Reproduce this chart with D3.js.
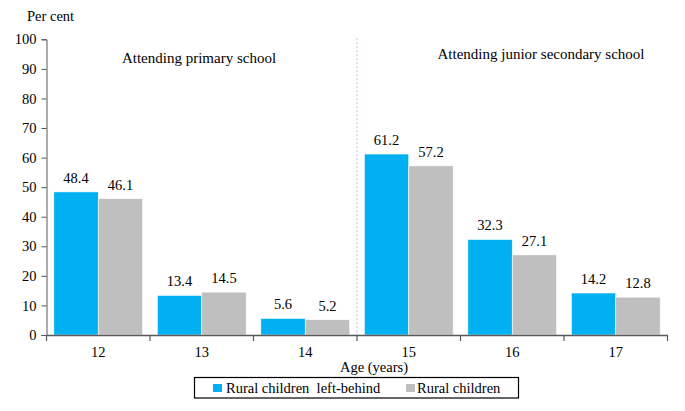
<!DOCTYPE html>
<html><head><meta charset="utf-8">
<script src="https://cdn.jsdelivr.net/npm/d3@7"></script>
<style>body{margin:0;background:#fff}</style>
</head><body><svg id="c" width="685" height="411"></svg>
<script>
const ages = ["12","13","14","15","16","17"];
const leftBehind = [48.4, 13.4, 5.6, 61.2, 32.3, 14.2];
const rural = [46.1, 14.5, 5.2, 57.2, 27.1, 12.8];
const seriesNames = ["Rural children  left-behind", "Rural children"];
const yTicks = [0,10,20,30,40,50,60,70,80,90,100];
const groupLabels = ["Attending primary school", "Attending junior secondary school"];

const FONT = "'Liberation Serif', 'Times New Roman', Tinos, 'DejaVu Serif', serif";
const svg = d3.select("#c");
const colors = ["#00B0F0", "#BFBFBF"];
const x = d3.scaleBand().domain(ages).range([46.5, 667.5]).paddingInner(0).paddingOuter(0);
const y = d3.scaleLinear().domain([0,100]).range([335, 39.3]);
const inner = d3.scaleBand().domain([0,1]).range([0, x.bandwidth()]).paddingInner(0).paddingOuter(0.165);

const series = [leftBehind, rural];
series.forEach((vals, s) => {
  svg.append("g").selectAll("rect").data(vals).join("rect")
    .attr("x", (d,i) => x(ages[i]) + inner(s))
    .attr("y", d => y(d))
    .attr("width", inner.bandwidth())
    .attr("height", d => y(0) - y(d))
    .attr("fill", colors[s]).attr("stroke", "#fff").attr("stroke-width", 0.6);
  svg.append("g").selectAll("text").data(vals).join("text")
    .attr("x", (d,i) => x(ages[i]) + inner(s) + inner.bandwidth()/2)
    .attr("y", d => y(d) - 9)
    .attr("text-anchor", "middle").style("font-size", "14.5px").style("font-family", FONT)
    .text(d => d.toFixed(1));
});

svg.append("line").attr("x1", x("15")).attr("x2", x("15"))
  .attr("y1", y(100)-1).attr("y2", y(0))
  .attr("stroke", "#9DC3E6").attr("stroke-width", 1).attr("stroke-dasharray", "2,2");

const ya = svg.append("g").attr("transform", "translate(46.5,0)")
  .call(d3.axisLeft(y).tickValues(yTicks).tickSize(5).tickPadding(5));
ya.select(".domain").attr("stroke", "#595959");
ya.selectAll(".tick line").attr("stroke", "#595959");
ya.selectAll("text").style("font-size", "14.5px").style("font-family", FONT).attr("fill", "#000");

const xa = svg.append("g").attr("transform", "translate(0,335)")
  .call(d3.axisBottom(x).tickSize(0).tickPadding(12));
xa.select(".domain").attr("stroke", "#595959").attr("stroke-width", 1.3);
xa.selectAll("text").style("font-size", "14.5px").style("font-family", FONT).attr("fill", "#000");
const bounds = ages.map(a => x(a)).concat([x(ages[ages.length-1]) + x.bandwidth()]);
svg.append("g").selectAll("line").data(bounds).join("line")
  .attr("x1", d => d).attr("x2", d => d).attr("y1", 335).attr("y2", 341)
  .attr("stroke", "#595959").attr("stroke-width", 1.2);

function txt(xp, yp, s, anchor, size) {
  return svg.append("text").attr("x", xp).attr("y", yp).attr("text-anchor", anchor || "start")
    .style("font-size", (size || 14.5) + "px").style("font-family", FONT).style("white-space", "pre")
    .attr("fill", "#000").text(s);
}
txt(27, 21, "Per cent");
txt(199, 63, groupLabels[0], "middle", 15);
txt(541, 59, groupLabels[1], "middle", 15);
txt(374, 372, "Age (years)", "middle");

svg.append("rect").attr("x", 194.5).attr("y", 377.5).attr("width", 324).attr("height", 20.5)
  .attr("fill", "#fff").attr("stroke", "#000").attr("stroke-width", 1.2);
const lx = [213, 406];
const tx = [226, 417];
seriesNames.forEach((n, i) => {
  svg.append("rect").attr("x", lx[i]).attr("y", 384).attr("width", 9).attr("height", 8).attr("fill", colors[i]);
  txt(tx[i], 393, n);
});
</script></body></html>
